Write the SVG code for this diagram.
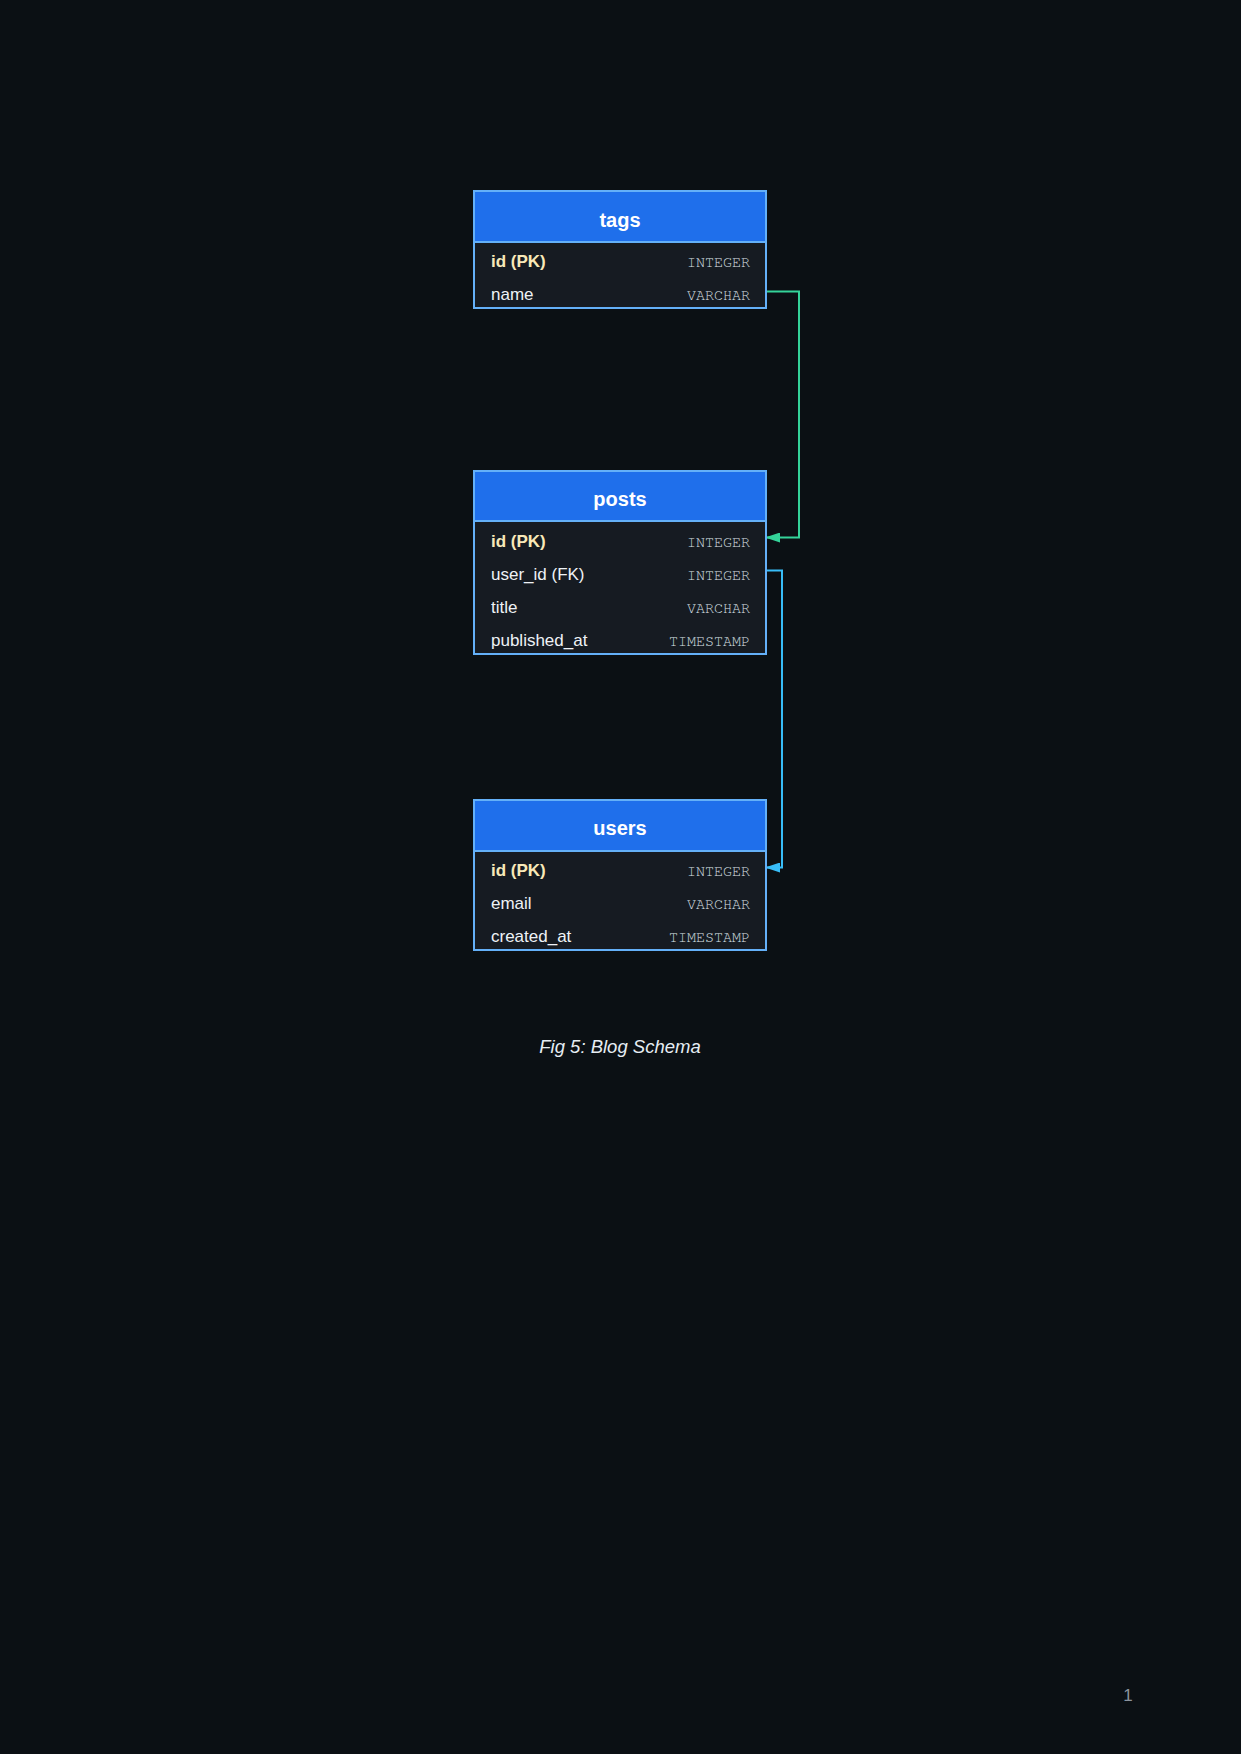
<svg xmlns="http://www.w3.org/2000/svg" width="1241" height="1754" viewBox="0 0 1241 1754">
<defs>
<style>
.bg{fill:#0b1014}
.box{fill:#161b22;stroke:#64b0f8;stroke-width:2}
.hdr{fill:#1f6feb;stroke:#64b0f8;stroke-width:2}
.title{font-family:"Liberation Sans",Arial,sans-serif;font-weight:bold;font-size:20px;fill:#ffffff;text-anchor:middle}
.fld{font-family:"Liberation Sans",Arial,sans-serif;font-size:17px;fill:#eef2f6}
.pk{font-family:"Liberation Sans",Arial,sans-serif;font-size:17px;font-weight:bold;fill:#f8e9b8}
.typ{font-family:"Nimbus Mono PS","Nimbus Mono L",FreeMono,"Courier New",Courier,"Liberation Mono",monospace;font-size:15px;fill:#dde3ea;text-anchor:end}
.cap{font-family:"Liberation Sans",Arial,sans-serif;font-style:italic;font-size:18.5px;fill:#e6edf3;text-anchor:middle}
.pg{font-family:"Liberation Sans",Arial,sans-serif;font-size:17px;fill:#8b949e;text-anchor:middle}
.conn{fill:none;stroke-width:2;stroke-linejoin:miter}
</style>
<marker id="arrG" markerWidth="15" markerHeight="10" refX="15" refY="5" orient="auto" markerUnits="userSpaceOnUse">
<path d="M0,0 L15,5 L0,10 z" fill="#34d399"/>
</marker>
<marker id="arrB" markerWidth="15" markerHeight="10" refX="15" refY="5" orient="auto" markerUnits="userSpaceOnUse">
<path d="M0,0 L15,5 L0,10 z" fill="#38bdf8"/>
</marker>
</defs>
<rect class="bg" x="0" y="0" width="1241" height="1754"/>

<g id="connectors">
<path class="conn" stroke="#34d399" d="M766,291.5 H799 V537.5 H765" marker-end="url(#arrG)"/>
<path class="conn" stroke="#38bdf8" d="M766,570.5 H782 V867.5 H765" marker-end="url(#arrB)"/>
</g>

<g id="tags">
<rect class="box" x="474" y="191" width="292" height="117"/>
<rect class="hdr" x="474" y="191" width="292" height="51"/>
<text class="title" x="620" y="226.5">tags</text>
<text class="pk" x="491" y="267">id (PK)</text>
<text class="typ" x="750" y="267">INTEGER</text>
<text class="fld" x="491" y="300">name</text>
<text class="typ" x="750" y="300">VARCHAR</text>
</g>

<g id="posts">
<rect class="box" x="474" y="471" width="292" height="183"/>
<rect class="hdr" x="474" y="471" width="292" height="50"/>
<text class="title" x="620" y="506">posts</text>
<text class="pk" x="491" y="547">id (PK)</text>
<text class="typ" x="750" y="547">INTEGER</text>
<text class="fld" x="491" y="580">user_id (FK)</text>
<text class="typ" x="750" y="580">INTEGER</text>
<text class="fld" x="491" y="613">title</text>
<text class="typ" x="750" y="613">VARCHAR</text>
<text class="fld" x="491" y="646">published_at</text>
<text class="typ" x="750" y="646">TIMESTAMP</text>
</g>

<g id="users">
<rect class="box" x="474" y="800" width="292" height="150"/>
<rect class="hdr" x="474" y="800" width="292" height="51"/>
<text class="title" x="620" y="835">users</text>
<text class="pk" x="491" y="876">id (PK)</text>
<text class="typ" x="750" y="876">INTEGER</text>
<text class="fld" x="491" y="909">email</text>
<text class="typ" x="750" y="909">VARCHAR</text>
<text class="fld" x="491" y="942">created_at</text>
<text class="typ" x="750" y="942">TIMESTAMP</text>
</g>

<text class="cap" x="620" y="1053">Fig 5: Blog Schema</text>
<text class="pg" x="1128" y="1701">1</text>
</svg>
